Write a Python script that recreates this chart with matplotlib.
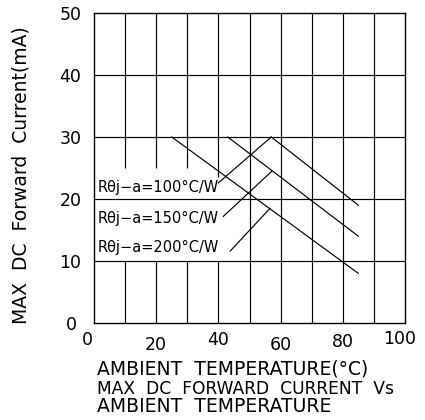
import numpy as np
import matplotlib
matplotlib.use("Agg")
import matplotlib.pyplot as plt
import matplotlib.transforms as mtransforms

# ---- data ----
series_labels = ["R\u03b8j\u2212a=100\u00b0C/W", "R\u03b8j\u2212a=150\u00b0C/W", "R\u03b8j\u2212a=200\u00b0C/W"]
knee_temp = [57, 43, 25]          # temperature where derating starts (°C)
knee_current = [30, 30, 30]       # mA
end_temp = [85, 85, 85]           # °C
end_current = [19, 14, 8]         # mA

label_x = [1.3, 1.3, 1.3]
label_y = [21.9, 16.9, 12.1]
leader_start_x = [40.0, 41.6, 43.8]
leader_start_y = [22.6, 17.2, 11.6]
leader_end_x = [57.0, 57.2, 56.6]
leader_end_y = [30.0, 24.5, 18.5]

x_ticks = [0, 20, 40, 60, 80, 100]
x_tick_labels = ["0", "20", "40", "60", "80", "100"]
y_ticks = [0, 10, 20, 30, 40, 50]
y_tick_labels = ["0", "10", "20", "30", "40", "50"]

FONT = "DejaVu Sans"
plt.rcParams["font.family"] = [FONT]

fig = plt.figure(figsize=(4.25, 4.2), dpi=100)
ax = fig.add_axes([94 / 425, (420 - 323) / 420, (405 - 94) / 425, (323 - 13) / 420])
ax.set_xlim(0, 100)
ax.set_ylim(0, 50)

lw = 0.85
# horizontal grid
for yv in [10, 20, 30, 40]:
    ax.axhline(yv, color="black", lw=lw, zorder=1)
# vertical grid, broken behind the labels
vx = [10, 20, 30, 40, 50, 60, 70, 80, 90]
for xv in vx:
    if xv <= 30:
        segs = [(25, 50), (0, 10)]
    elif xv == 40:
        segs = [(23.5, 50), (0, 10)]
    else:
        segs = [(0, 50)]
    for lo, hi in segs:
        ax.vlines(xv, lo, hi, color="black", lw=lw, zorder=1)

# derating lines
for i in range(3):
    ax.plot([knee_temp[i], end_temp[i]], [knee_current[i], end_current[i]],
            color="black", lw=lw, zorder=2)
    ax.plot([leader_start_x[i], leader_end_x[i]], [leader_start_y[i], leader_end_y[i]],
            color="black", lw=lw, zorder=2)
    ax.text(label_x[i], label_y[i], series_labels[i], ha="left", va="center",
            fontsize=10.5, color="black", zorder=3)

for s in ax.spines.values():
    s.set_linewidth(1.0)
    s.set_color("black")

ax.tick_params(length=0)
ax.set_xticks(x_ticks)
ax.set_xticklabels(x_tick_labels, fontsize=12.5)
ax.set_yticks(y_ticks)
ax.set_yticklabels(y_tick_labels, fontsize=12.5)
ax.tick_params(axis="x", pad=8)
ax.tick_params(axis="y", pad=9)

# small staggering of the x tick labels as in the reference (pixels)
x_off = [-7, 0, 0, 0, 0, -5]
y_off = [3, -2, 3, -2, 1, 4]
for lab, dx, dy in zip(ax.get_xticklabels(), x_off, y_off):
    lab.set_transform(lab.get_transform() + mtransforms.ScaledTranslation(dx / 100, dy / 100, fig.dpi_scale_trans))
ylabs = ax.get_yticklabels()
ylabs[0].set_transform(ylabs[0].get_transform() + mtransforms.ScaledTranslation(-5 / 100, 0, fig.dpi_scale_trans))

ax.set_ylabel("MAX  DC  Forward  Current(mA)", fontsize=13.5)
ax.yaxis.set_label_coords(-0.205, 0.477)

fig.text(97 / 425, 1 - 369 / 420, "AMBIENT  TEMPERATURE(\u00b0C)", ha="left", va="center", fontsize=13.5)
fig.text(97 / 425, 1 - 389 / 420, "MAX  DC  FORWARD  CURRENT  Vs", ha="left", va="center", fontsize=12.3)
fig.text(97 / 425, 1 - 406 / 420, "AMBIENT  TEMPERATURE", ha="left", va="center", fontsize=13.5)

fig.savefig("out.png", dpi=100, facecolor="white")
